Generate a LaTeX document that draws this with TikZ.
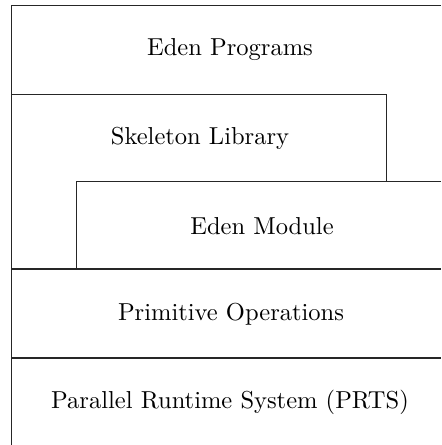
\documentclass[tikz,border=0pt]{standalone}
\begin{document}
\begin{tikzpicture}[x=0.408pt,y=-0.408pt,
  layer/.style={inner sep=0pt,font=\normalsize},
  rule/.style={line width=0.41pt,black!85}]
\useasboundingbox (0,0) rectangle (441,445);
% layer outlines
\coordinate (tl) at (11.5,6);
\coordinate (tr) at (441,6);
\coordinate (bl) at (11.5,445);
\draw[rule] (tr) -- (tl) -- (bl);
\draw[rule] (11.5,95) -- (386,95) -- (386,182);
\draw[rule] (441,182) -- (76,182) -- (76,269);
\draw[rule] (11.5,269) -- (441,269);
\draw[rule] (11.5,358) -- (441,358);
% layer labels
\node[layer] (prog) at (230,50) {Eden Programs};
\node[layer] (skel) at (200,138) {Skeleton Library};
\node[layer] (mod)  at (262,226) {Eden Module};
\node[layer] (prim) at (231,314) {Primitive Operations};
\node[layer] (prts) at (230,402) {Parallel Runtime System (PRTS)};
\end{tikzpicture}
\end{document}
